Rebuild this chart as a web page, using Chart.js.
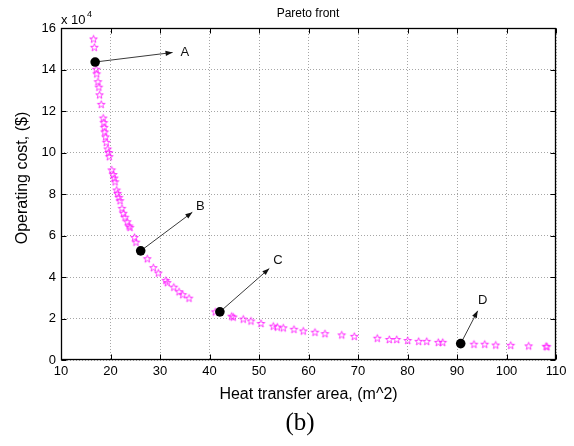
<!DOCTYPE html>
<html>
<head>
<meta charset="utf-8">
<script src="https://cdn.jsdelivr.net/npm/chart.js@4/dist/chart.umd.min.js"></script>
<style>
  html, body { margin: 0; background: #fff; }
  #wrap { width: 574px; height: 446px; }
</style>
</head>
<body>
<div id="wrap"><canvas id="pareto" width="574" height="446"></canvas></div>
<script>
  // Pareto front: heat transfer area (m^2) vs operating cost (x 10^4 $)
  const area = [16.57, 16.73, 17.11, 17.21, 17.47, 17.64, 17.78, 18.12, 18.53, 18.65, 18.73, 18.83,
    18.99, 19.15, 19.43, 19.64, 19.76, 20.24, 20.57, 20.77, 20.91, 21.25, 21.45, 21.72, 21.92, 22.32,
    22.59, 22.93, 23.39, 23.74, 23.94, 24.85, 25.15, 27.43, 28.65, 29.66, 31.17, 31.47, 32.79, 33.84,
    34.59, 35.86, 41.17, 44.48, 44.81, 46.83, 48.38, 50.40, 52.89, 53.70, 54.91, 57.07, 58.95, 61.31,
    63.33, 66.71, 69.25, 73.90, 76.32, 77.82, 80.04, 82.26, 83.88, 86.22, 87.11, 93.43, 95.60, 97.82,
    100.85, 104.48, 107.98, 108.18];
  const cost = [15.47, 15.07, 14.01, 13.79, 13.41, 13.15, 12.78, 12.32, 11.66, 11.44, 11.21, 10.99,
    10.75, 10.49, 10.17, 10.00, 9.80, 9.16, 8.94, 8.77, 8.59, 8.19, 8.03, 7.84, 7.68, 7.31,
    7.07, 6.88, 6.66, 6.46, 6.39, 5.91, 5.68, 4.88, 4.45, 4.19, 3.84, 3.73, 3.51, 3.29,
    3.15, 2.98, 2.32, 2.11, 2.07, 1.97, 1.88, 1.76, 1.63, 1.59, 1.55, 1.48, 1.40, 1.34,
    1.27, 1.21, 1.14, 1.05, 0.99, 0.99, 0.94, 0.90, 0.90, 0.85, 0.85, 0.76, 0.76, 0.72,
    0.71, 0.68, 0.66, 0.64];

  // selected solutions A-D, with arrow tips and label positions
  const pickNames = ["A", "B", "C", "D"];
  const pickArea = [16.9, 26.1, 42.1, 90.75];
  const pickCost = [14.36, 5.26, 2.32, 0.79];
  const tipArea = [32.54, 36.53, 52.08, 94.18];
  const tipCost = [14.82, 7.12, 4.41, 2.37];
  const labelArea = [35.04, 38.14, 53.84, 95.19];
  const labelCost = [14.80, 7.41, 4.79, 2.88];

  const xTicks = [10, 20, 30, 40, 50, 60, 70, 80, 90, 100, 110];
  const yTicks = [0, 2, 4, 6, 8, 10, 12, 14, 16];

  const FONT = "'Liberation Sans', Arial, sans-serif";

  // hollow five-point star marker
  function starMarker(color) {
    const c = document.createElement("canvas");
    c.width = 11; c.height = 11;
    const g = c.getContext("2d");
    g.strokeStyle = color;
    g.lineWidth = 0.9;
    g.beginPath();
    for (let i = 0; i < 10; i++) {
      const r = i % 2 === 0 ? 4 : 1.6;
      const a = -Math.PI / 2 + i * Math.PI / 5;
      const px = 5.5 + r * Math.cos(a), py = 5.8 + r * Math.sin(a);
      if (i === 0) g.moveTo(px, py); else g.lineTo(px, py);
    }
    g.closePath();
    g.stroke();
    return c;
  }

  const arrowSets = pickNames.map((n, i) => ({
    label: "arrow " + n,
    data: [{ x: pickArea[i], y: pickCost[i] }, { x: tipArea[i], y: tipCost[i] }],
    showLine: true, borderColor: "#3a3a3a", borderWidth: 1, pointRadius: 0, order: 1,
  }));

  const decorations = {
    id: "decorations",
    afterDatasetsDraw(chart) {
      const { ctx, scales: { x, y } } = chart;
      ctx.save();
      // arrow heads and letters
      for (let i = 0; i < pickNames.length; i++) {
        const x0 = x.getPixelForValue(pickArea[i]), y0 = y.getPixelForValue(pickCost[i]);
        const x1 = x.getPixelForValue(tipArea[i]), y1 = y.getPixelForValue(tipCost[i]);
        const ang = Math.atan2(y1 - y0, x1 - x0);
        ctx.fillStyle = "#111";
        ctx.beginPath();
        ctx.moveTo(x1, y1);
        ctx.lineTo(x1 - 7 * Math.cos(ang) + 2.6 * Math.sin(ang), y1 - 7 * Math.sin(ang) - 2.6 * Math.cos(ang));
        ctx.lineTo(x1 - 7 * Math.cos(ang) - 2.6 * Math.sin(ang), y1 - 7 * Math.sin(ang) + 2.6 * Math.cos(ang));
        ctx.closePath();
        ctx.fill();
        ctx.font = `13px ${FONT}`;
        ctx.textAlign = "center";
        ctx.textBaseline = "middle";
        ctx.fillText(pickNames[i], x.getPixelForValue(labelArea[i]), y.getPixelForValue(labelCost[i]));
      }
      ctx.restore();
    },
    afterDraw(chart) {
      const { ctx, chartArea: a, scales: { x, y } } = chart;
      ctx.save();
      ctx.strokeStyle = "#000";
      ctx.lineWidth = 1;
      const L = Math.round(a.left) + 0.5, R = Math.round(a.right) - 0.5;
      const T = Math.round(a.top) + 0.5, B = Math.round(a.bottom) - 0.5;
      ctx.beginPath();
      // inward tick marks on all four sides
      for (const v of xTicks) {
        const px = Math.round(x.getPixelForValue(v)) + 0.5;
        ctx.moveTo(px, T); ctx.lineTo(px, T + 5);
        ctx.moveTo(px, B); ctx.lineTo(px, B - 5);
      }
      for (const v of yTicks) {
        const py = Math.round(y.getPixelForValue(v)) + 0.5;
        ctx.moveTo(L, py); ctx.lineTo(L + 5, py);
        ctx.moveTo(R, py); ctx.lineTo(R - 5, py);
      }
      ctx.stroke();
      ctx.lineWidth = 1.3;
      ctx.strokeRect(L, T, R - L, B - T);

      ctx.fillStyle = "#000";
      ctx.font = `12px ${FONT}`;
      ctx.textAlign = "center";
      ctx.textBaseline = "middle";
      ctx.fillText("Pareto front", 308, 14);

      ctx.textAlign = "left";
      ctx.textBaseline = "alphabetic";
      ctx.font = `13px ${FONT}`;
      ctx.fillText("x 10", 61, 24);
      ctx.font = `9px ${FONT}`;
      ctx.fillText("4", 87, 17);

      ctx.font = `16px ${FONT}`;
      ctx.textAlign = "center";
      ctx.textBaseline = "middle";
      ctx.translate(23, 178);
      ctx.rotate(-Math.PI / 2);
      ctx.fillText("Operating cost, ($)", 0, 0);
      ctx.setTransform(1, 0, 0, 1, 0, 0);

      ctx.font = `25px 'Liberation Serif', 'Times New Roman', serif`;
      ctx.fillText("(b)", 300, 423);
      ctx.restore();
    },
  };

  new Chart(document.getElementById("pareto"), {
    type: "scatter",
    data: {
      datasets: [
        {
          label: "selected",
          data: pickArea.map((v, i) => ({ x: v, y: pickCost[i] })),
          pointStyle: "circle", pointRadius: 4.8, backgroundColor: "#000", borderColor: "#000",
          borderWidth: 0, order: 0,
        },
        ...arrowSets,
        {
          label: "Pareto front",
          data: area.map((v, i) => ({ x: v, y: cost[i] })),
          pointStyle: starMarker("#ff22ff"), pointRadius: 4, order: 2,
        },
      ],
    },
    options: {
      responsive: false,
      animation: false,
      devicePixelRatio: 1,
      layout: { padding: { top: 28, right: 18, left: 0, bottom: 0 } },
      plugins: { legend: { display: false }, tooltip: { enabled: false }, title: { display: false } },
      scales: {
        x: {
          type: "linear", min: 10, max: 110,
          afterBuildTicks: s => { s.ticks = xTicks.map(v => ({ value: v })); },
          afterFit: s => { s.height = 86; },
          ticks: { color: "#000", font: { family: FONT, size: 13 }, padding: 4, maxRotation: 0 },
          grid: { color: "#a6a6a6", lineWidth: 1, drawTicks: false },
          border: { display: false, dash: [1, 2] },
          title: {
            display: true, text: "Heat transfer area, (m^2)", color: "#000",
            font: { family: FONT, size: 16 }, padding: { top: 0, bottom: 42 },
          },
        },
        y: {
          type: "linear", min: 0, max: 16,
          afterBuildTicks: s => { s.ticks = yTicks.map(v => ({ value: v })); },
          afterFit: s => { s.width = 61; },
          ticks: { color: "#000", font: { family: FONT, size: 13 }, padding: 5 },
          grid: { color: "#a6a6a6", lineWidth: 1, drawTicks: false },
          border: { display: false, dash: [1, 2] },
        },
      },
    },
    plugins: [decorations],
  });
</script>
</body>
</html>
